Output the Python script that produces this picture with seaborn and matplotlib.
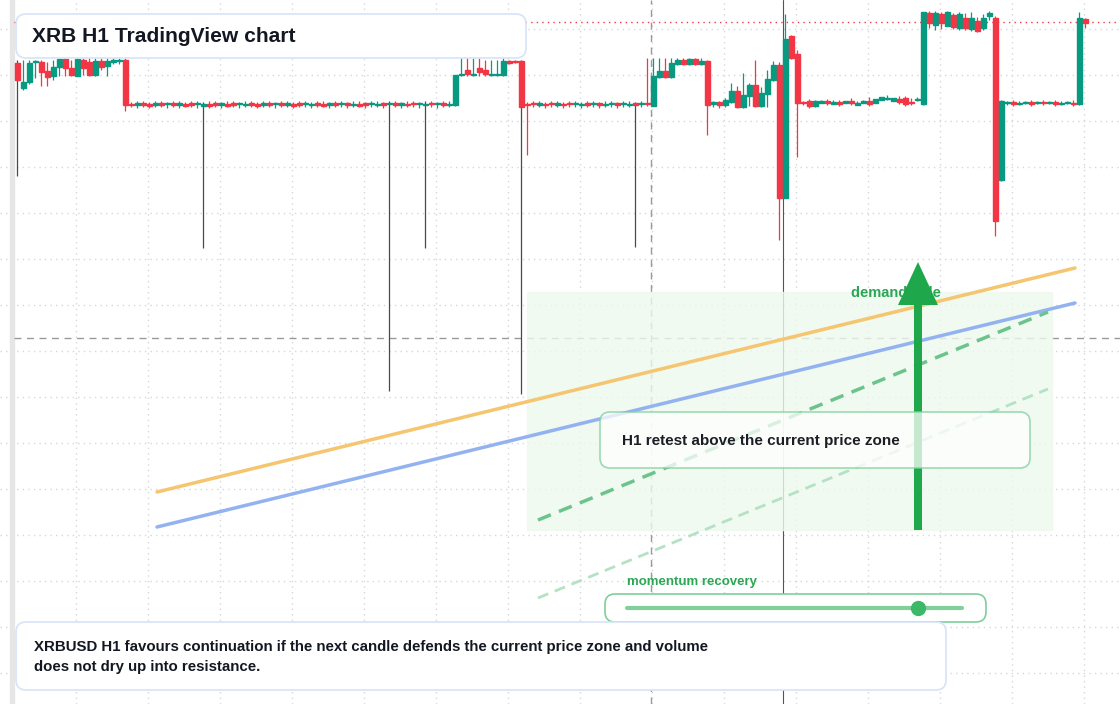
import numpy as np
import pandas as pd
import matplotlib
matplotlib.use("Agg")
import matplotlib.pyplot as plt
from matplotlib.patches import FancyBboxPatch, Rectangle, FancyArrow
import seaborn as sns

# candle levels, in chart pixel-price units (smaller = higher price)
opens = [63, 88, 82, 62, 62, 71, 76, 67, 59, 68, 76, 60, 62, 75, 61, 66, 62, 61, 60,
         104, 105, 103, 104, 105, 103, 104, 103, 105, 104, 103, 104, 106, 104, 103, 105, 104, 103, 104, 105,
         103, 104, 105, 103, 104, 103, 105, 104, 103, 104, 105, 103, 104, 105, 103, 104, 103, 105, 104, 103,
         104, 105, 103, 104, 103, 105, 104, 103, 104, 105, 103, 104, 103, 105,
         105, 75, 70, 75, 68, 70, 75, 75, 75, 61, 61, 61,
         104, 103, 105, 104, 103, 105, 104, 103, 104, 105, 103, 104, 103, 105, 104, 103, 104, 105, 103, 104, 103,
         106, 77, 71, 77, 64, 60, 64, 59, 64, 61,
         104, 102, 105, 102, 91, 107, 96, 85, 106, 94, 80, 65, 198, 36, 54,
         102, 101, 106, 103, 101, 104, 102, 103, 101, 105, 103, 101, 103, 100, 98, 101, 99, 98, 102, 99,
         104, 13, 25, 14, 26, 15, 28, 18, 29, 21, 28, 16,
         18, 180,
         103, 102, 104, 103, 102, 103, 102, 103, 102, 104, 103, 103,
         104, 19]
closes = [80, 82, 63, 61, 72, 77, 67, 59, 68, 75, 59, 68, 75, 61, 67, 61, 60, 60, 105,
          105, 103, 105, 106, 103, 105, 103, 105, 103, 106, 105, 103, 104, 106, 105, 103, 106, 105, 103, 104,
          105, 106, 103, 105, 103, 105, 103, 106, 105, 103, 104, 105, 106, 103, 105, 103, 105, 104, 106, 105,
          103, 104, 105, 103, 105, 103, 105, 104, 103, 104, 104, 103, 105, 104,
          75, 74, 74, 74, 72, 74, 74, 74, 61, 63, 62, 107,
          105, 104, 103, 105, 104, 103, 105, 104, 103, 104, 105, 103, 105, 104, 103, 105, 103, 104, 105, 103, 104,
          76, 71, 77, 63, 60, 64, 59, 64, 61, 105,
          102, 105, 100, 91, 107, 95, 85, 106, 93, 79, 65, 198, 39, 58, 103,
          103, 106, 101, 101, 103, 102, 104, 101, 103, 103, 101, 104, 99, 97, 98, 98, 102, 104, 103, 99,
          12, 23, 13, 23, 12, 27, 14, 28, 18, 31, 18, 13,
          221, 101,
          102, 104, 103, 102, 104, 102, 103, 102, 104, 103, 102, 104,
          18, 23]
highs = [60, 60, 60, 60, 60, 62, 60, 58, 56, 60, 58, 58, 58, 58, 58, 58, 58, 58, 58,
         102, 101, 101, 102, 101, 101, 102, 101, 101, 102, 101, 101, 102, 101, 101, 102, 101, 101, 102, 101,
         101, 102, 101, 101, 102, 101, 101, 102, 101, 101, 102, 101, 101, 102, 101, 101, 102, 101, 101, 102,
         101, 101, 102, 101, 101, 102, 101, 101, 102, 101, 101, 102, 101, 101,
         105, 58, 58, 58, 58, 60, 60, 60, 58, 60, 60, 60,
         102, 101, 101, 102, 101, 101, 102, 101, 101, 102, 101, 101, 102, 101, 101, 102, 101, 101, 102, 101, 58,
         58, 58, 58, 58, 58, 58, 58, 58, 58, 60,
         101, 101, 98, 83, 86, 73, 83, 60, 87, 70, 61, 62, 14, 35, 50,
         101, 99, 100, 100, 99, 100, 100, 101, 98, 101, 100, 97, 100, 98, 95, 98, 96, 96, 98, 97,
         102, 11, 11, 12, 11, 13, 12, 13, 12, 17, 14, 11,
         16, 100,
         101, 100, 101, 101, 100, 101, 100, 101, 100, 101, 101, 100,
         12, 18]
lows = [176, 90, 84, 78, 86, 86, 80, 76, 76, 76, 76, 75, 76, 76, 70, 76, 64, 64, 111,
        107, 108, 107, 108, 107, 107, 108, 107, 108, 107, 107, 108, 248, 108, 107, 108, 107, 107, 108, 107,
        107, 108, 107, 107, 108, 107, 107, 108, 107, 107, 108, 107, 107, 108, 107, 107, 108, 107, 107, 108,
        107, 107, 108, 391, 107, 108, 107, 107, 108, 248, 107, 108, 107, 107,
        106, 76, 76, 76, 76, 76, 76, 76, 76, 64, 63, 394,
        155, 107, 107, 108, 107, 107, 108, 107, 107, 108, 107, 107, 108, 107, 107, 108, 107, 107, 247, 107, 106,
        106, 78, 78, 78, 65, 65, 65, 65, 65, 135,
        107, 108, 107, 103, 108, 108, 106, 107, 107, 107, 81, 240, 198, 59, 157,
        105, 108, 107, 103, 105, 104, 106, 103, 105, 105, 103, 106, 101, 99, 100, 100, 104, 106, 105, 101,
        105, 28, 30, 29, 26, 29, 30, 30, 31, 32, 30, 20,
        236, 181,
        105, 106, 105, 104, 106, 104, 105, 104, 106, 105, 104, 106,
        105, 28]

annotation_title = "XRB H1 TradingView chart"
zone_label = "H1 retest above the current price zone"
demand_label = "demand side"
momentum_label = "momentum recovery"
footer_text = ("XRBUSD H1 favours continuation if the next candle defends the current price zone and volume\n"
               "does not dry up into resistance.")

GREEN = "#089981"
RED = "#f23645"

sns.set_theme(style="white")
plt.rcParams["font.family"] = ["Liberation Sans", "DejaVu Sans"]

fig = plt.figure(figsize=(11.2, 7.04), dpi=100)
ax = fig.add_axes([0, 0, 1, 1])
ax.set_xlim(0, 1120)
ax.set_ylim(704, 0)
ax.axis("off")

# grid
for gx in range(76, 1120, 72):
    ax.axvline(gx, color="#d4d7dc", lw=1, ls=(0, (1, 3)), zorder=0)
for gy in range(29, 704, 46):
    ax.axhline(gy, color="#d4d7dc", lw=1, ls=(0, (1, 3)), zorder=0)
ax.add_patch(Rectangle((10, 0), 4, 704, color="#e6e6e6", zorder=1))

# crosshair and price line
ax.axvline(651, color="#9a9a9a", lw=1, ls=(0, (5, 4)), zorder=1)
ax.axhline(338, xmin=14 / 1120, color="#9a9a9a", lw=1, ls=(0, (5, 4)), zorder=1)
ax.axhline(22, xmin=14 / 1120, color=RED, lw=1, ls=(0, (1, 3)), zorder=1)
ax.axvline(783, color="#555555", lw=0.8, zorder=1)

# demand zone shading
ax.add_patch(Rectangle((527, 292), 525, 238, color="#eef9ee", alpha=0.8, zorder=1))

# candles
df = pd.DataFrame({"o": opens, "c": closes, "h": highs, "l": lows})
df["x"] = 17 + 6 * np.arange(len(df))
for _, r in df.iterrows():
    col = GREEN if r.c <= r.o else RED
    wick = "#4a4a4a" if r.l - max(r.o, r.c) > 60 else col
    ax.vlines(r.x, r.h, r.l, color=wick, lw=0.9, zorder=3)
    top, bot = min(r.o, r.c), max(r.o, r.c)
    ax.add_patch(Rectangle((r.x - 2.5, top), 5, max(bot - top, 1.2), color=col, zorder=4))

# trend lines
lines = pd.DataFrame({"x": [157, 1075, 157, 1075, 538, 1048, 538, 1048],
                      "y": [492, 268, 527, 303, 520, 312, 598, 389],
                      "k": ["a", "a", "b", "b", "c", "c", "d", "d"]})
sns.lineplot(data=lines[lines.k == "a"], x="x", y="y", ax=ax, color="#f5c56f", lw=2.5, zorder=5)
sns.lineplot(data=lines[lines.k == "b"], x="x", y="y", ax=ax, color="#93b2f0", lw=2.5, zorder=5)
sns.lineplot(data=lines[lines.k == "c"], x="x", y="y", ax=ax, color="#6cc48c", lw=2.5,
             ls=(0, (4, 2.5)), zorder=5)
sns.lineplot(data=lines[lines.k == "d"], x="x", y="y", ax=ax, color="#b5e2c4", lw=2,
             ls=(0, (4, 2.5)), zorder=5)

# demand arrow
ax.text(851, 293, demand_label, color="#2aa655", fontsize=10.5, fontweight="bold", va="center", zorder=6)
ax.add_patch(FancyArrow(918, 530, 0, -268, width=8, head_width=40, head_length=43,
                        length_includes_head=True, color="#1ea84b", lw=0, zorder=7))

# zone box
ax.add_patch(FancyBboxPatch((600, 412), 430, 56, boxstyle="round,pad=0,rounding_size=10",
                            fc="white", ec="#7fcf9a", lw=1.2, alpha=0.75, zorder=8))
ax.text(622, 441, zone_label, fontsize=11, fontweight="bold", color="#1b1f24", va="center", zorder=9)

# momentum slider
ax.text(627, 582, momentum_label, color="#2aa655", fontsize=9.5, fontweight="bold", va="center", zorder=9)
ax.add_patch(FancyBboxPatch((605, 594), 381, 28, boxstyle="round,pad=0,rounding_size=10",
                            fc="white", ec="#7fcf9a", lw=1.2, zorder=8))
ax.plot([627, 962], [608, 608], color="#7fd09a", lw=3, zorder=9, solid_capstyle="round")
ax.plot([918], [608], "o", color="#3cb868", ms=10, zorder=10)

# title box
ax.add_patch(FancyBboxPatch((16, 14), 510, 44, boxstyle="round,pad=0,rounding_size=10",
                            fc="white", ec="#d6e4f7", lw=1.2, zorder=8))
ax.text(32, 36, annotation_title, fontsize=15.1, fontweight="bold", color="#131722", va="center", zorder=9)

# footer box
ax.add_patch(FancyBboxPatch((16, 622), 930, 68, boxstyle="round,pad=0,rounding_size=10",
                            fc="white", ec="#d6e4f7", lw=1.2, zorder=8))
ax.text(34, 657, footer_text, fontsize=10.85, fontweight="bold", color="#131722", va="center",
        linespacing=1.5, zorder=9)

fig.savefig("out.png", dpi=100)
